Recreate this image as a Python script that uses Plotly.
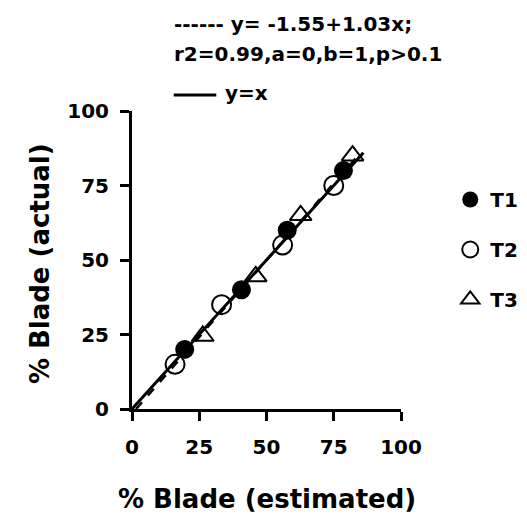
import plotly.graph_objects as go

# data
t1_x = [19.6, 40.7, 57.7, 78.6]
t1_y = [20, 40, 60, 80]
t2_x = [16, 33.3, 56, 75]
t2_y = [15, 35, 55, 75]
t3_x = [26.3, 46, 62.7, 82]
t3_y = [24.5, 44.5, 65, 85]
fit_a, fit_b = -1.55, 1.03
fit_x = [1.5, 85]
ident_x = [0, 86]
ticks = [0, 25, 50, 75, 100]

FONT = "DejaVu Sans, Liberation Sans, Arial, sans-serif"

fig = go.Figure()
fig.add_trace(go.Scatter(x=ident_x, y=ident_x, mode="lines",
                         line=dict(color="black", width=3), showlegend=False, hoverinfo="skip"))
fig.add_trace(go.Scatter(x=fit_x, y=[fit_a + fit_b * v for v in fit_x], mode="lines",
                         line=dict(color="black", width=2.5, dash="dash"), showlegend=False, hoverinfo="skip"))
fig.add_trace(go.Scatter(x=t1_x, y=t1_y, mode="markers", name="T1", legendgroup="a",
                         marker=dict(symbol="circle", size=19, color="black")))
fig.add_trace(go.Scatter(x=t2_x, y=t2_y, mode="markers", name="T2", legendgroup="b",
                         marker=dict(symbol="circle-open", size=19, color="black", line=dict(width=2))))
fig.add_trace(go.Scatter(x=t3_x, y=t3_y, mode="markers", name="T3", legendgroup="c",
                         marker=dict(symbol="triangle-up-open", size=19, color="black", line=dict(width=2))))

L, R, T, B = 124, 408, 103, 401
W, H = 527, 514

def px(x):
    return (x - L) / (R - L)

def py(y):
    return (B - y) / (B - T)

axis_common = dict(range=[0, 100], tickvals=ticks, showgrid=False, zeroline=False,
                   showline=True, linecolor="black", linewidth=3,
                   ticks="outside", ticklen=9, tickwidth=3, tickcolor="black",
                   tickfont=dict(family=FONT, size=20, color="black", weight="bold"))

fig.update_layout(
    width=W, height=H,
    margin=dict(l=L, r=W - R, t=T, b=H - B),
    plot_bgcolor="white", paper_bgcolor="white",
    xaxis=dict(**axis_common, ticklabelstandoff=9),
    yaxis=dict(**axis_common, ticklabelstandoff=7),
    legend=dict(x=px(460), y=py(172), xanchor="left", yanchor="top",
                font=dict(family=FONT, size=20, color="black", weight="bold"),
                tracegroupgap=21, itemwidth=30, bgcolor="rgba(0,0,0,0)"),
    annotations=[
        dict(text="% Blade (estimated)", xref="paper", yref="paper", x=0.5, y=py(491),
             xanchor="center", yanchor="middle", showarrow=False,
             font=dict(family=FONT, size=26, color="black", weight="bold")),
        dict(text="% Blade (actual)", xref="paper", yref="paper", x=px(27), y=py(256),
             xanchor="center", yanchor="middle", showarrow=False, textangle=-90,
             font=dict(family=FONT, size=26, color="black", weight="bold")),
        dict(text="------ y= -1.55+1.03x;", xref="paper", yref="paper", x=px(166), y=py(16),
             xanchor="left", yanchor="middle", showarrow=False,
             font=dict(family=FONT, size=20, color="black", weight="bold")),
        dict(text="r2=0.99,a=0,b=1,p>0.1", xref="paper", yref="paper", x=px(166), y=py(46),
             xanchor="left", yanchor="middle", showarrow=False,
             font=dict(family=FONT, size=20, color="black", weight="bold")),
        dict(text="y=x", xref="paper", yref="paper", x=px(220), y=py(85),
             xanchor="left", yanchor="middle", showarrow=False,
             font=dict(family=FONT, size=20, color="black", weight="bold")),
    ],
    shapes=[dict(type="line", xref="paper", yref="paper", x0=px(168), x1=px(213),
                 y0=py(87), y1=py(87), line=dict(color="black", width=3))],
)

fig.write_html("out.html")
